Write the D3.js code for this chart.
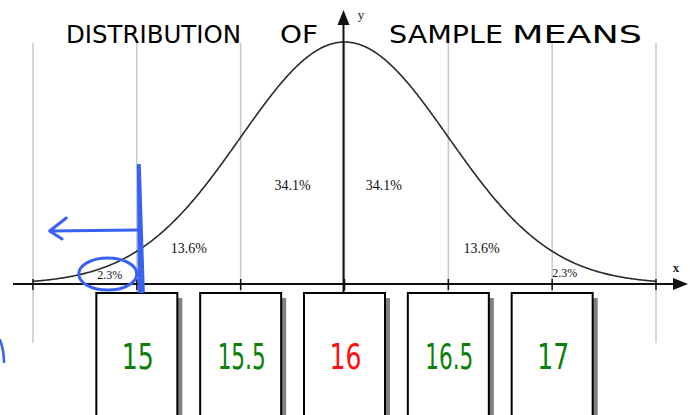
<!DOCTYPE html>
<html><head><meta charset="utf-8">
<script src="https://cdn.jsdelivr.net/npm/d3@7"></script>
<style>html,body{margin:0;padding:0;background:#fff;}svg{display:block;}</style>
</head><body>
<script>
// ---- data ----
const mu = 16, sigma = 0.5;
const sampleMeans = [15, 15.5, 16, 16.5, 17];
const meanColors = ["#0a800a", "#0a800a", "#ff1010", "#0a800a", "#0a800a"];
const gridValues = [14.5, 15, 15.5, 16, 16.5, 17, 17.5];
const pctLabels = ["2.3%", "13.6%", "34.1%", "34.1%", "13.6%", "2.3%"];
const pctX = [14.87, 15.25, 15.75, 16.19, 16.66, 17.06];
const pctLevel = [0.02, 0.128, 0.39, 0.39, 0.128, 0.028];
const titleWords = ["DISTRIBUTION", "OF", "SAMPLE", "MEANS"];

const W = 690, H = 415;
const svg = d3.select("body").append("svg").attr("width", W).attr("height", H);

const x = d3.scaleLinear().domain([14.5, 17.5]).range([33, 656]);
const y = d3.scaleLinear().domain([0, 1]).range([284, 42]);
const dens = v => Math.exp(-0.5 * Math.pow((v - mu) / sigma, 2));

// gridlines
svg.append("g").selectAll("line").data(gridValues).join("line")
  .attr("x1", d => x(d)).attr("x2", d => x(d))
  .attr("y1", 43).attr("y2", 343)
  .attr("stroke", "#c8c8c8").attr("stroke-width", 1.5);

// curve
const pts = d3.range(0, 601).map(i => 14.5 + i * 3 / 600);
svg.append("path").datum(pts)
  .attr("d", d3.line().x(d => x(d)).y(d => y(dens(d))))
  .attr("fill", "none").attr("stroke", "#2a2a2a").attr("stroke-width", 1.6);

// x axis
svg.append("line").attr("x1", 13).attr("x2", 676).attr("y1", y(0)).attr("y2", y(0))
  .attr("stroke", "#111").attr("stroke-width", 1.8);
svg.append("path").attr("d", `M673,${y(0)-6}L688,${y(0)}L673,${y(0)+6}Z`).attr("fill", "#111");
svg.append("g").selectAll("line").data(gridValues).join("line")
  .attr("x1", d => x(d)).attr("x2", d => x(d))
  .attr("y1", y(0) - 5).attr("y2", y(0) + 6)
  .attr("stroke", "#111").attr("stroke-width", 1.5);
svg.append("text").attr("x", 676).attr("y", 272).text("x")
  .attr("font-family", "Liberation Serif, serif").attr("font-size", 13).attr("font-weight", "bold")
  .attr("text-anchor", "middle").attr("fill", "#222");

// y axis
const ax = x(mu) - 1;
svg.append("line").attr("x1", ax).attr("x2", ax).attr("y1", 20).attr("y2", 294)
  .attr("stroke", "#111").attr("stroke-width", 2);
svg.append("path").attr("d", `M${ax-6},25L${ax},10L${ax+6},25Z`).attr("fill", "#111");
svg.append("text").attr("x", 361).attr("y", 19).text("y")
  .attr("font-family", "Liberation Serif, serif").attr("font-size", 13)
  .attr("text-anchor", "middle").attr("fill", "#222");

// percentage labels
svg.append("g").selectAll("text").data(pctLabels).join("text")
  .attr("x", (d, i) => x(pctX[i])).attr("y", (d, i) => y(pctLevel[i]))
  .attr("text-anchor", "middle")
  .attr("font-family", "Liberation Serif, Times New Roman, serif")
  .attr("font-size", (d, i) => (i === 0 || i === 5) ? 12 : 14)
  .attr("fill", "#111").text(d => d);

// title (hand-lettered look)
const titleX = [66, 280, 389, 512], titleW = [175, 38, 114, 130];
svg.append("g").selectAll("text").data(titleWords).join("text")
  .attr("x", (d, i) => titleX[i]).attr("y", 43)
  .attr("textLength", (d, i) => titleW[i]).attr("lengthAdjust", "spacingAndGlyphs")
  .attr("font-family", "DejaVu Sans, sans-serif").attr("font-size", 25)
  .attr("fill", "#000").text(d => d);

// boxes with drop shadow
const bw = 81;
const boxes = svg.append("g").selectAll("g").data(sampleMeans).join("g");
boxes.append("rect").attr("x", d => x(d) - bw / 2 + 5).attr("y", 298)
  .attr("width", bw).attr("height", 140).attr("fill", "#808080");
boxes.append("rect").attr("x", d => x(d) - bw / 2).attr("y", 293)
  .attr("width", bw).attr("height", 140).attr("fill", "#fff")
  .attr("stroke", "#000").attr("stroke-width", 2);
boxes.append("text").attr("x", d => x(d) + 1).attr("y", 369)
  .attr("text-anchor", "middle")
  .attr("textLength", d => String(d).length > 2 ? 48 : 32).attr("lengthAdjust", "spacingAndGlyphs")
  .attr("font-family", "DejaVu Sans, sans-serif").attr("font-size", 35)
  .attr("fill", (d, i) => meanColors[i])
  .text(d => d);

// blue hand annotation (cut-off at mu - 2 sigma)
const blue = "#3a62f2";
const cx = x(mu - 2 * sigma) + 3;
svg.append("path")
  .attr("d", `M${cx-2},165 L${cx},165 L${cx+4},292 L${cx-1},292 Z`)
  .attr("fill", blue).attr("stroke", blue).attr("stroke-width", 2).attr("stroke-linejoin", "round");
svg.append("path")
  .attr("d", `M${cx-2},230 L${x(14.58)},231 M${x(14.66)},218 L${x(14.58)},231 L${x(14.64)},239`)
  .attr("fill", "none").attr("stroke", blue).attr("stroke-width", 3).attr("stroke-linecap", "round").attr("stroke-linejoin", "round");
svg.append("ellipse").attr("cx", x(14.86)).attr("cy", 274).attr("rx", 29).attr("ry", 16)
  .attr("fill", "none").attr("stroke", blue).attr("stroke-width", 3);
svg.append("path").attr("d", "M0,340 Q4,350 4,362")
  .attr("fill", "none").attr("stroke", blue).attr("stroke-width", 2.5).attr("stroke-linecap", "round");
</script>
</body></html>
